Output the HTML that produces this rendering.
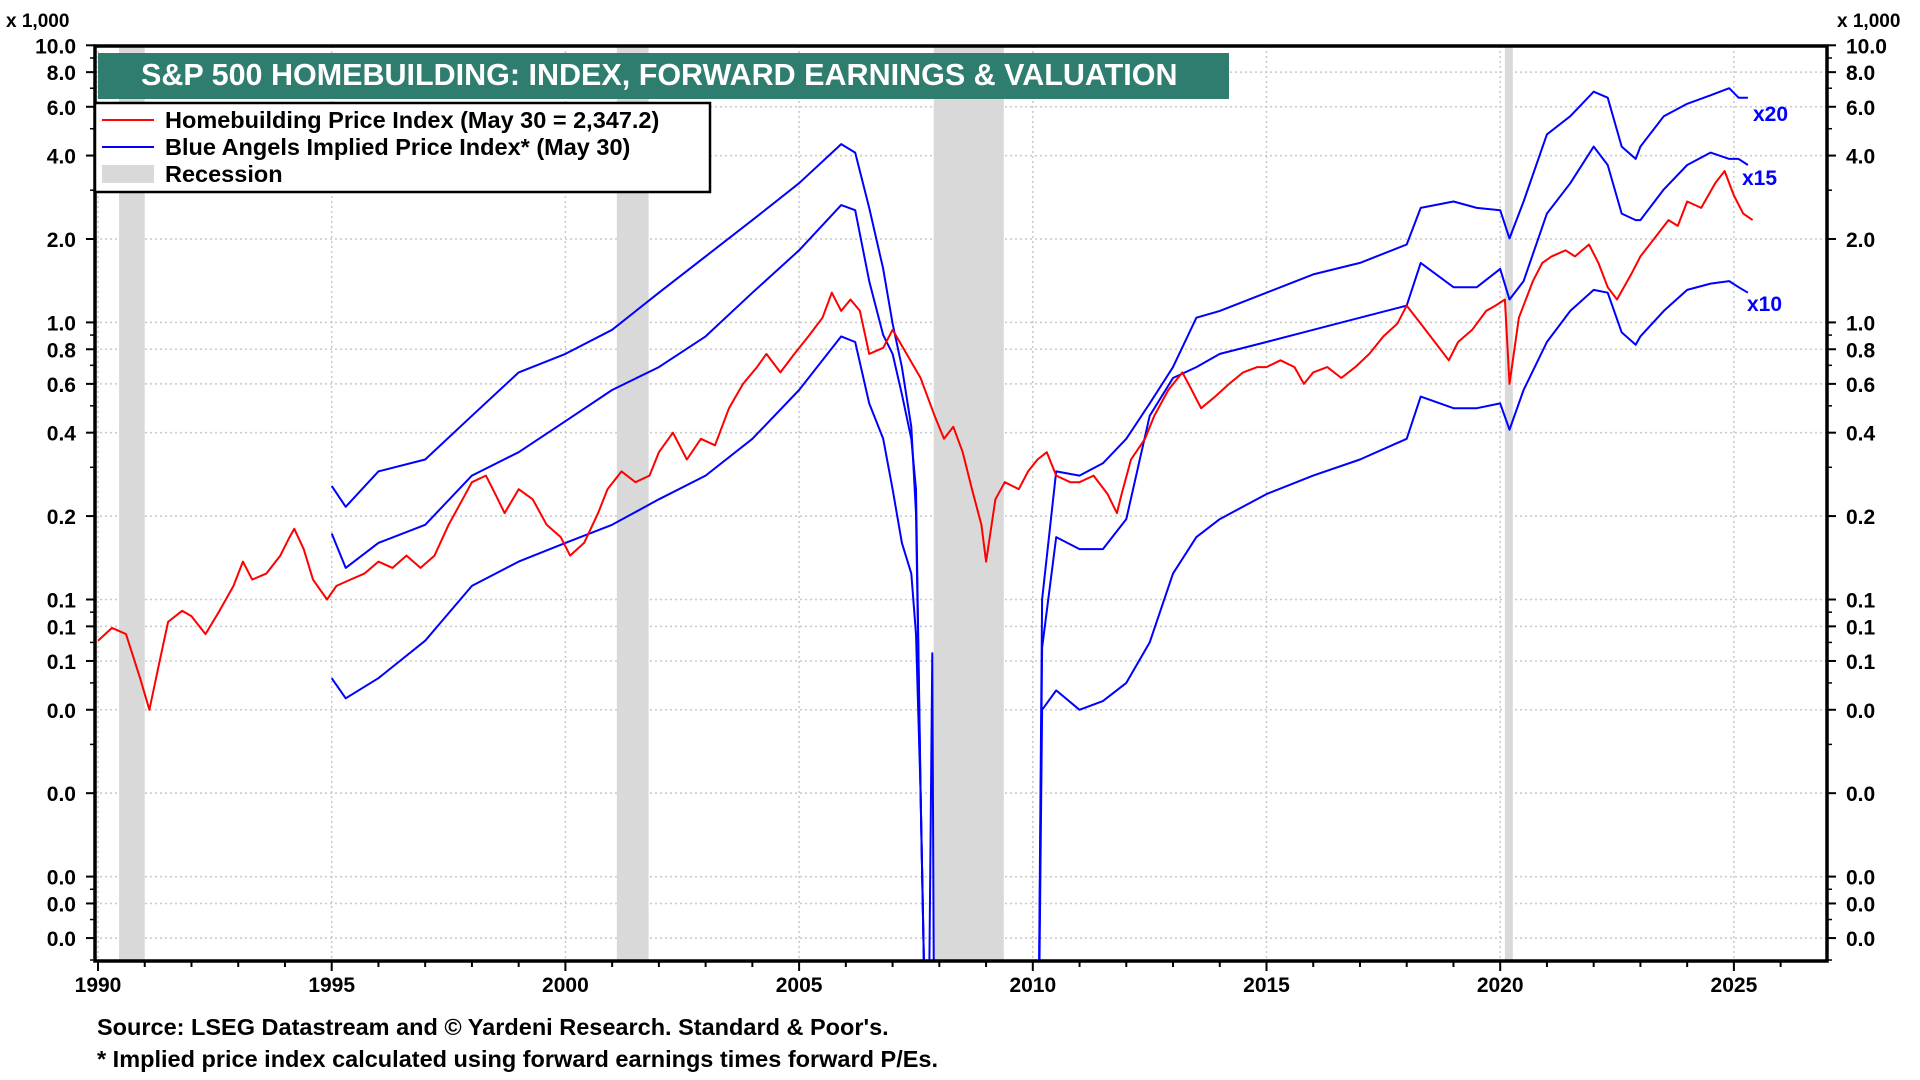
<!DOCTYPE html>
<html><head><meta charset="utf-8"><style>
html,body{margin:0;padding:0;background:#fff;width:1920px;height:1080px;overflow:hidden;}
svg{display:block;font-family:"Liberation Sans",Arial,sans-serif;}
</style></head><body>
<svg id="chart" width="1920" height="1080" viewBox="0 0 1920 1080">
<defs><clipPath id="pc"><rect x="95" y="46" width="1732" height="915"/></clipPath></defs>
<g id="grid"></g>
<g id="rec" clip-path="url(#pc)"></g>
<g id="series" clip-path="url(#pc)"></g>
<rect x="95" y="46" width="1732" height="915" fill="none" stroke="#000" stroke-width="3.5"/>
<g id="axes"></g>
<text x="6" y="27" font-size="19" font-weight="bold">x 1,000</text>
<text x="1837" y="27" font-size="19" font-weight="bold">x 1,000</text>
<rect x="98" y="53" width="1131" height="46" fill="#2e7d6e"/>
<text x="141" y="85" font-size="30.5" font-weight="bold" fill="#fff">S&amp;P 500 HOMEBUILDING: INDEX, FORWARD EARNINGS &amp; VALUATION</text>
<g>
<rect x="95" y="103" width="615" height="89" fill="#fff" stroke="#000" stroke-width="2.5"/>
<line x1="102" y1="120" x2="154" y2="120" stroke="#f00" stroke-width="2"/>
<text x="165" y="128" font-size="23.5" font-weight="bold">Homebuilding Price Index (May 30 = 2,347.2)</text>
<line x1="102" y1="147" x2="154" y2="147" stroke="#00f" stroke-width="2"/>
<text x="165" y="155" font-size="23.5" font-weight="bold">Blue Angels Implied Price Index* (May 30)</text>
<rect x="102" y="165" width="52" height="18" fill="#d9d9d9"/>
<text x="165" y="182" font-size="23.5" font-weight="bold">Recession</text>
</g>
<text x="1753" y="121" font-size="21" font-weight="bold" fill="#00f">x20</text>
<text x="1742" y="185" font-size="21" font-weight="bold" fill="#00f">x15</text>
<text x="1747" y="311" font-size="21" font-weight="bold" fill="#00f">x10</text>
<text x="97" y="1035" font-size="23.5" font-weight="bold">Source: LSEG Datastream and © Yardeni Research. Standard &amp; Poor's.</text>
<text x="97" y="1067" font-size="23.5" font-weight="bold">* Implied price index calculated using forward earnings times forward P/Es.</text>
</svg>
<script>
const yTickValues=[10,8,6,4,2,1,0.8,0.6,0.4,0.2,0.1,0.08,0.06,0.04,0.02,0.01,0.008,0.006];
const yTickLabels=["10.0","8.0","6.0","4.0","2.0","1.0","0.8","0.6","0.4","0.2","0.1","0.1","0.1","0.0","0.0","0.0","0.0","0.0"];
const xTickYears=[1990,1995,2000,2005,2010,2015,2020,2025];
const recessions=[[1990.45,1991.0],[2001.1,2001.78],[2007.88,2009.38],[2020.1,2020.27]];
const redYears=[1990.0,1990.3,1990.6,1990.9,1991.1,1991.3,1991.5,1991.8,1992.0,1992.3,1992.6,1992.9,1993.1,1993.3,1993.6,1993.9,1994.1,1994.2,1994.4,1994.6,1994.9,1995.1,1995.4,1995.7,1996.0,1996.3,1996.6,1996.9,1997.2,1997.5,1997.8,1998.0,1998.3,1998.5,1998.7,1999.0,1999.3,1999.6,1999.9,2000.1,2000.4,2000.7,2000.9,2001.2,2001.5,2001.8,2002.0,2002.3,2002.6,2002.9,2003.2,2003.5,2003.8,2004.1,2004.3,2004.6,2004.9,2005.2,2005.5,2005.7,2005.9,2006.1,2006.3,2006.5,2006.8,2007.0,2007.3,2007.6,2007.9,2008.1,2008.3,2008.5,2008.7,2008.9,2009.0,2009.2,2009.4,2009.7,2009.9,2010.1,2010.3,2010.5,2010.8,2011.0,2011.3,2011.6,2011.8,2011.9,2012.1,2012.4,2012.6,2012.9,2013.2,2013.4,2013.6,2013.9,2014.2,2014.5,2014.8,2015.0,2015.3,2015.6,2015.8,2016.0,2016.3,2016.6,2016.9,2017.2,2017.5,2017.8,2018.0,2018.3,2018.6,2018.9,2019.1,2019.4,2019.7,2019.9,2020.1,2020.2,2020.4,2020.7,2020.9,2021.1,2021.4,2021.6,2021.9,2022.1,2022.3,2022.5,2022.8,2023.0,2023.3,2023.6,2023.8,2024.0,2024.3,2024.6,2024.8,2025.0,2025.2,2025.4];
const redValues=[0.071,0.079,0.075,0.052,0.040,0.058,0.083,0.091,0.087,0.075,0.091,0.112,0.137,0.118,0.124,0.144,0.168,0.18,0.152,0.118,0.1,0.112,0.118,0.124,0.137,0.13,0.144,0.13,0.144,0.186,0.23,0.265,0.28,0.24,0.205,0.25,0.23,0.186,0.168,0.144,0.16,0.205,0.25,0.29,0.265,0.28,0.34,0.40,0.32,0.38,0.36,0.49,0.60,0.69,0.77,0.66,0.77,0.89,1.04,1.28,1.10,1.21,1.10,0.77,0.81,0.94,0.77,0.63,0.46,0.38,0.42,0.34,0.25,0.186,0.137,0.23,0.265,0.25,0.29,0.32,0.34,0.28,0.265,0.265,0.28,0.24,0.205,0.24,0.32,0.38,0.46,0.57,0.66,0.57,0.49,0.54,0.60,0.66,0.69,0.69,0.73,0.69,0.60,0.66,0.69,0.63,0.69,0.77,0.89,0.99,1.15,0.99,0.85,0.73,0.85,0.94,1.10,1.15,1.21,0.60,1.04,1.41,1.64,1.73,1.82,1.73,1.91,1.64,1.34,1.21,1.49,1.73,2.01,2.34,2.23,2.73,2.59,3.18,3.52,2.87,2.47,2.34];
const blueYears=[1995.0,1995.3,1996.0,1997.0,1998.0,1999.0,2000.0,2001.0,2002.0,2003.0,2004.0,2005.0,2005.9,2006.2,2006.5,2006.8,2007.0,2007.2,2007.4,2007.5,2007.6,2007.75,2007.85,2007.9,2007.95,null,2010.1,2010.2,2010.5,2011.0,2011.5,2012.0,2012.5,2013.0,2013.5,2014.0,2015.0,2016.0,2017.0,2018.0,2018.3,2019.0,2019.5,2020.0,2020.2,2020.5,2021.0,2021.5,2022.0,2022.3,2022.6,2022.9,2023.0,2023.5,2024.0,2024.5,2024.9,2025.1,2025.3];
const impliedX20=[0.257,0.216,0.29,0.32,0.46,0.66,0.77,0.94,1.28,1.73,2.34,3.18,4.4,4.1,2.59,1.56,0.99,0.69,0.42,0.205,0.02,0.001,0.001,0.001,0.001,null,0.001,0.1,0.29,0.28,0.31,0.38,0.51,0.69,1.04,1.10,1.28,1.49,1.64,1.91,2.59,2.73,2.59,2.54,2.01,2.73,4.77,5.55,6.8,6.47,4.31,3.89,4.31,5.55,6.15,6.6,7.0,6.47,6.47];
const impliedX15=[0.173,0.13,0.16,0.186,0.28,0.34,0.44,0.57,0.69,0.89,1.28,1.82,2.65,2.54,1.41,0.90,0.77,0.55,0.38,0.25,0.02,0.001,0.001,0.001,0.001,null,0.001,0.067,0.168,0.152,0.152,0.195,0.46,0.63,0.69,0.77,0.85,0.94,1.04,1.15,1.64,1.34,1.34,1.56,1.21,1.41,2.47,3.18,4.31,3.7,2.47,2.34,2.34,3.02,3.7,4.1,3.89,3.89,3.7];
const impliedX10=[0.052,0.044,0.052,0.071,0.112,0.137,0.16,0.186,0.23,0.28,0.38,0.57,0.89,0.85,0.51,0.38,0.25,0.16,0.124,0.075,0.02,0.001,0.064,0.001,0.001,null,0.001,0.040,0.047,0.040,0.043,0.050,0.070,0.124,0.168,0.195,0.24,0.28,0.32,0.38,0.54,0.49,0.49,0.51,0.41,0.57,0.85,1.10,1.31,1.28,0.92,0.83,0.89,1.10,1.31,1.38,1.41,1.34,1.28];

const NS="http://www.w3.org/2000/svg";
const X0=95,X1=1827,Y0=46,Y1=961;
function xs(yr){return 98+(yr-1990)*46.74;}
function ys(v){return 322.4-277.1*Math.log10(v);}
function mk(tag,attrs,parent){const e=document.createElementNS(NS,tag);for(const k in attrs)e.setAttribute(k,attrs[k]);parent.appendChild(e);return e;}
const grid=document.getElementById('grid'),axes=document.getElementById('axes'),rec=document.getElementById('rec'),ser=document.getElementById('series');
yTickValues.forEach((v,i)=>{
  const y=ys(v);
  const gl=mk('line',{x1:X0,x2:X1,y1:y,y2:y,stroke:'#c8c8c8','stroke-width':1.5,'stroke-dasharray':'2,3'},grid);
  
  
  const tl=mk('text',{x:76,y:y+8,'font-size':21,'font-weight':'bold','text-anchor':'end'},axes);
  tl.textContent=yTickLabels[i];
  
  
  const tr=mk('text',{x:1846,y:y+8,'font-size':21,'font-weight':'bold'},axes);
  tr.textContent=yTickLabels[i];
  
  
  mk('line',{x1:X0-9,x2:X0,y1:y,y2:y,stroke:'#000','stroke-width':2},axes);
  mk('line',{x1:X1,x2:X1+9,y1:y,y2:y,stroke:'#000','stroke-width':2},axes);
});
for(let d=-3;d<=1;d++){for(let m=1;m<10;m++){const v=m*Math.pow(10,d);const y=ys(v);if(y<Y0||y>Y1)continue;
  mk('line',{x1:X0-5,x2:X0,y1:y,y2:y,stroke:'#000','stroke-width':1.5},axes);
  mk('line',{x1:X1,x2:X1+5,y1:y,y2:y,stroke:'#000','stroke-width':1.5},axes);}}
for(let yr=1990;yr<=2026;yr++){const x=xs(yr);mk('line',{x1:x,x2:x,y1:Y1,y2:Y1+(yr%5===0?10:6),stroke:'#000','stroke-width':2},axes);}
xTickYears.forEach(yr=>{const x=xs(yr);
  const gl=mk('line',{x1:x,x2:x,y1:Y0,y2:Y1,stroke:'#c8c8c8','stroke-width':1.5,'stroke-dasharray':'2,3'},grid);
  
  
  const t=mk('text',{x:x,y:992,'font-size':21,'font-weight':'bold','text-anchor':'middle'},axes);
  t.textContent=yr;
  
  
});
recessions.forEach(r=>{const b=mk('rect',{x:xs(r[0]),y:Y0,width:xs(r[1])-xs(r[0]),height:Y1-Y0,fill:'#d9d9d9'},rec);
  
  });
function path(years,vals,color,w,name){let d='',pen=false;
  for(let i=0;i<years.length;i++){if(years[i]===null||vals[i]===null){pen=false;continue;}
    d+=(pen?'L':'M')+xs(years[i]).toFixed(1)+','+ys(vals[i]).toFixed(1);pen=true;}
  const p=mk('path',{d:d,fill:'none',stroke:color,'stroke-width':w,'stroke-linejoin':'round'},ser);
  
  }
path(blueYears,impliedX20,'#0000ff',2,'implied-x20-line');
path(blueYears,impliedX15,'#0000ff',2,'implied-x15-line');
path(blueYears,impliedX10,'#0000ff',2,'implied-x10-line');
path(redYears,redValues,'#ff0000',2,'homebuilding-index-line');
</script>
</body></html>
